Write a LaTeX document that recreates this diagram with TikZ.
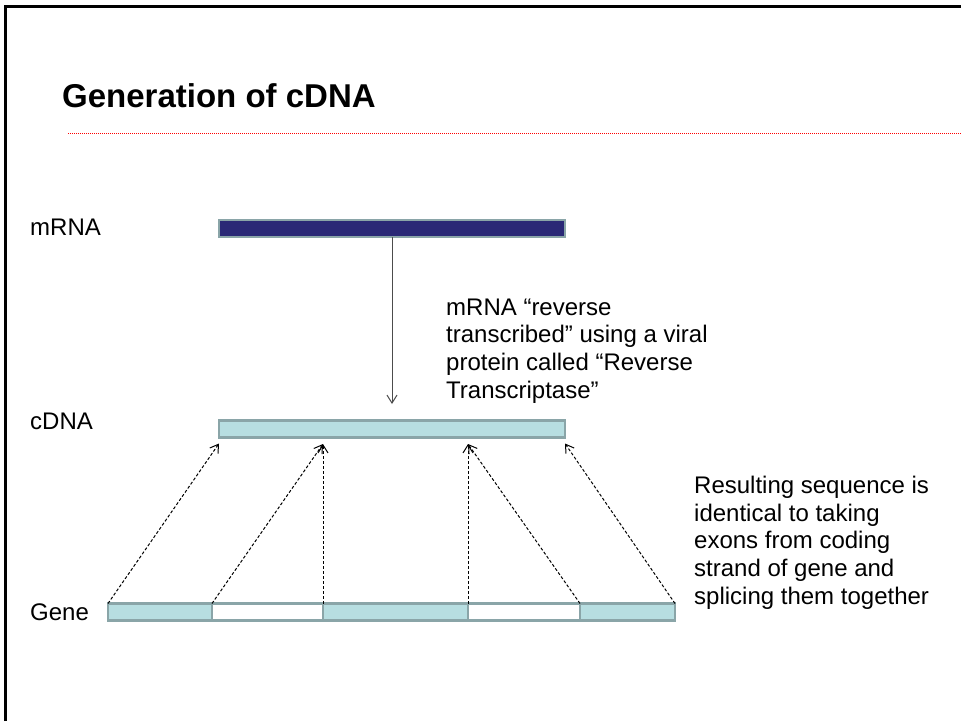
\documentclass[tikz,border=0pt]{standalone}
\usepackage{fontspec}
\setmainfont{Liberation Sans}
\usepackage{tikz}
\usetikzlibrary{arrows.meta, positioning, calc}
\definecolor{barline}{RGB}{138,165,168}
\definecolor{navybar}{RGB}{42,40,118}
\definecolor{cyanbar}{RGB}{183,222,225}
\tikzstyle{strand} = [
  rectangle, draw=barline, line width=2.5pt, inner sep=0pt, outer sep=0pt,
  minimum height=17pt
]
\tikzstyle{tag} = [inner sep=0pt, anchor=base west, font=\fontsize{24}{27.6}\selectfont]
\tikzstyle{notetext} = [tag, align=left]
\tikzstyle{arrow} = [-{Straight Barb[length=8pt, width=10pt]}, line width=1pt]
\tikzstyle{dashedarrow} = [arrow, dash pattern=on 3pt off 2pt]

\begin{document}
\begin{tikzpicture}[x=1pt, y=-1pt]
  \useasboundingbox (0,0) rectangle (961,721);

  % Frame and title
  \draw[line width=3pt] (5.5,721) -- (5.5,6) -- (961,6);
  \node[inner sep=0pt, anchor=base west, font=\fontsize{33}{40}\selectfont\bfseries] (title) at (62,107) {Generation of cDNA};
  \draw[red, line width=1pt, dash pattern=on 1pt off 1pt] (68,133) -- (961,133);

  % Strands
  \node[strand, fill=navybar, minimum width=346pt] (mrna) at (392,228.5) {};
  \node[strand, fill=cyanbar, minimum width=346pt] (cdna) at (392,429) {};
  \node[strand, fill=cyanbar, minimum width=104pt] (exonA) at (160,612) {};
  \node[strand, fill=white, minimum width=111pt, right=0pt of exonA] (intronA) {};
  \node[strand, fill=cyanbar, minimum width=145pt, right=0pt of intronA] (exonB) {};
  \node[strand, fill=white, minimum width=112pt, right=0pt of exonB] (intronB) {};
  \node[strand, fill=cyanbar, minimum width=95pt, right=0pt of intronB] (exonC) {};

  % Labels (multi-line notes sit on their last baseline)
  \node[tag] (mrnalbl) at (30,235) {mRNA};
  \node[tag] (cdnalbl) at (30,429) {cDNA};
  \node[tag] (genelbl) at (30,620) {Gene};
  \node[notetext] (rtnote) at (446,398) {mRNA “reverse\\transcribed” using a viral\\protein called “Reverse\\Transcriptase”};
  \node[notetext] (splicenote) at (694,604) {Resulting sequence is\\identical to taking\\exons from coding\\strand of gene and\\splicing them together};

  % Reverse transcription
  \coordinate (rtend) at (392,404);
  \draw[arrow, black!70] (mrna.south) -- (rtend);

  % Exons onto cDNA
  \coordinate (tipA) at ($(cdna.south west)+(0,6)$);
  \coordinate (tipB) at (323,444);
  \coordinate (tipC) at (468,444);
  \coordinate (tipD) at ($(cdna.south east)+(0,6)$);
  \foreach \from/\to in {exonA.north west/tipA, intronA.north west/tipB, exonB.north west/tipB,
                         exonB.north east/tipC, exonC.north west/tipC, exonC.north east/tipD}
    \draw[dashedarrow] (\from) -- (\to);

\end{tikzpicture}
\end{document}
